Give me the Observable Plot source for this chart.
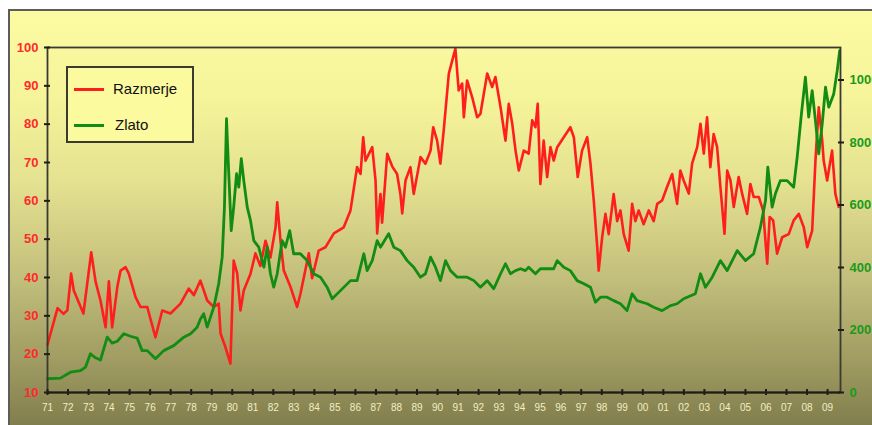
<!DOCTYPE html>
<html><head><meta charset="utf-8">
<script src="https://cdn.jsdelivr.net/npm/d3@7"></script>
<script src="https://cdn.jsdelivr.net/npm/@observablehq/plot@0.6"></script>
<style>
html,body{margin:0;padding:0;background:#fff;overflow:hidden;width:872px;height:425px;}
#frame{position:absolute;left:8px;top:9px;width:880px;height:430px;border:2px solid #5c5c5c;
 background:linear-gradient(to bottom,#fcfba2 0%,#f6f49a 20%,#e4e190 40%,#c6c27e 60%,#a29e64 80%,#7a7748 100%);}
#chart{position:absolute;left:0;top:0;}
#legend{position:absolute;left:66px;top:66px;width:124px;height:73px;border:2px solid #3a3a30;background:#fbfa9f;
 font-family:"Liberation Sans",Arial,sans-serif;font-size:15px;color:#111;}
.row{position:absolute;left:0;height:20px;}
.sw{position:absolute;left:6px;top:9px;width:30px;height:3px;}
.lb{position:absolute;left:45px;top:1px;white-space:nowrap;}
</style></head><body>
<div id="frame"></div>
<div id="chart"></div>
<div id="legend">
 <div class="row" style="top:11px"><div class="sw" style="background:#ff1e1e"></div><div class="lb">Razmerje</div></div>
 <div class="row" style="top:47px"><div class="sw" style="background:#128c12"></div><div class="lb" style="left:47px">Zlato</div></div>
</div>
<script>
const ratioYears = [1971.00,1971.49,1971.78,1971.97,1972.15,1972.28,1972.75,1973.13,1973.34,1973.58,1973.83,1973.99,1974.15,1974.40,1974.56,1974.80,1974.96,1975.29,1975.53,1975.86,1976.26,1976.59,1976.99,1977.48,1977.88,1978.13,1978.45,1978.78,1979.10,1979.34,1979.43,1979.67,1979.91,1980.07,1980.24,1980.40,1980.56,1980.89,1981.13,1981.37,1981.62,1981.86,1982.11,1982.19,1982.35,1982.51,1982.84,1983.16,1983.32,1983.73,1983.89,1984.21,1984.54,1984.95,1985.43,1985.76,1986.08,1986.25,1986.38,1986.49,1986.82,1986.98,1987.06,1987.22,1987.30,1987.55,1987.79,1988.03,1988.19,1988.28,1988.44,1988.68,1988.84,1989.17,1989.41,1989.66,1989.79,1989.98,1990.14,1990.30,1990.55,1990.87,1991.03,1991.20,1991.28,1991.44,1991.69,1991.93,1992.09,1992.42,1992.66,1992.82,1993.07,1993.31,1993.47,1993.64,1993.80,1993.96,1994.20,1994.44,1994.61,1994.77,1994.88,1995.01,1995.17,1995.34,1995.50,1995.66,1995.83,1996.15,1996.47,1996.64,1996.83,1997.04,1997.29,1997.45,1997.61,1997.78,1997.85,1998.02,1998.18,1998.34,1998.58,1998.75,1998.91,1999.07,1999.31,1999.48,1999.64,1999.80,2000.04,2000.29,2000.53,2000.70,2000.94,2001.18,2001.43,2001.67,2001.83,2001.99,2002.24,2002.40,2002.65,2002.81,2002.97,2003.13,2003.29,2003.45,2003.62,2003.78,2003.98,2004.11,2004.27,2004.43,2004.67,2004.84,2005.08,2005.24,2005.40,2005.65,2005.86,2006.06,2006.18,2006.35,2006.54,2006.79,2007.11,2007.35,2007.60,2007.84,2008.01,2008.25,2008.41,2008.57,2008.74,2008.81,2008.98,2009.22,2009.38,2009.54];
const ratioValues = [22.5,32,30.5,31.5,41,36.6,30.6,46.6,39,34,27,39,27,37.5,41.8,42.7,41,34.9,32.3,32.3,24.4,31.4,30.6,33.2,37.1,35.4,39.2,34,32.3,33.2,25.4,21.8,17.5,44.4,41.1,31.4,36.6,41,46.3,43,49.6,45.2,53.1,59.6,49.6,41.8,37.5,32.3,35.7,46.3,39.8,47,47.9,51.5,53.1,57.5,68.8,67,76.6,70.5,74,65.3,51.5,61.8,54.3,72.3,69,67,61.8,56.7,65.3,68.8,61.8,71.4,69.7,73.1,79.2,75.7,69.7,78.3,93.2,99.7,88.8,90.6,81.8,91.4,87,81.8,82.7,93.2,89.7,92.3,84.4,75.7,85.3,80.1,73.1,67.9,73.1,72.3,81,79.2,85.3,64.4,75.7,66.2,74,70.5,74,76.6,79.2,76.6,66.2,73.1,76.6,69.7,60.1,47.9,41.8,50.5,56.6,51.3,61.8,54.7,57.5,51.3,47,59.2,54.7,57.5,53.9,57.5,54.7,59.2,60.1,63.6,67,59.2,67.9,65.3,61.9,69.7,74,80.1,72.3,81.8,68.8,77.4,74,63.6,51.4,67.9,65.3,58.4,66.2,61.8,56.6,64.4,61,61,57.5,43.6,55.8,54.9,46.2,50.5,51.3,54.9,56.6,53.1,47.9,52.2,70.5,84.4,75.7,70.5,65.3,73.1,61.8,58.4];
const goldYears = [1971.00,1971.63,1972.12,1972.61,1972.85,1973.09,1973.34,1973.58,1973.91,1974.15,1974.40,1974.72,1975.04,1975.37,1975.61,1975.86,1976.26,1976.66,1977.15,1977.64,1977.97,1978.29,1978.45,1978.61,1978.78,1979.10,1979.34,1979.51,1979.62,1979.72,1979.83,1979.95,1980.07,1980.21,1980.32,1980.44,1980.56,1980.73,1980.89,1981.05,1981.29,1981.54,1981.70,1981.86,1982.02,1982.19,1982.43,1982.59,1982.80,1982.99,1983.32,1983.65,1983.97,1984.30,1984.62,1984.87,1985.27,1985.76,1986.08,1986.41,1986.57,1986.82,1987.06,1987.22,1987.62,1987.87,1988.19,1988.52,1988.84,1989.17,1989.41,1989.66,1989.90,1990.14,1990.39,1990.63,1990.96,1991.44,1991.77,1992.09,1992.42,1992.74,1993.07,1993.31,1993.55,1993.80,1994.04,1994.28,1994.44,1994.77,1995.01,1995.66,1995.83,1996.15,1996.47,1996.80,1997.13,1997.45,1997.69,1997.94,1998.26,1998.58,1998.91,1999.23,1999.48,1999.72,2000.21,2000.53,2000.94,2001.35,2001.67,2001.99,2002.16,2002.56,2002.81,2003.05,2003.38,2003.78,2004.11,2004.60,2005.00,2005.40,2005.73,2005.98,2006.09,2006.30,2006.46,2006.70,2007.03,2007.35,2007.52,2007.71,2007.92,2008.08,2008.25,2008.41,2008.57,2008.74,2008.90,2009.06,2009.30,2009.47,2009.59];
const goldValues = [44,46,65,70,81,124,111,104,177,158,164,188,180,174,134,134,108,134,150,177,188,209,235,252,209,273,348,433,593,876,700,518,593,700,657,748,679,593,550,486,465,401,465,380,337,380,486,465,518,444,444,422,380,369,337,300,326,358,358,444,390,422,486,465,508,465,454,422,401,369,380,433,401,358,422,390,369,369,358,337,358,332,380,412,380,390,396,390,401,380,396,396,422,401,390,358,348,337,289,305,305,294,284,262,316,294,284,273,262,278,284,300,305,316,380,337,369,422,390,454,422,444,529,615,721,593,636,678,678,657,753,881,1009,881,966,870,764,860,977,913,955,1030,1094];
const yearTicks = d3.range(1971, 2010);
const ratioTicks = [10,20,30,40,50,60,70,80,90,100];
const goldTicks = [0,200,400,600,800,1000];
const goldMax = 1104;
const g2r = g => 10 + g * 90 / goldMax;
const r2g = r => (r - 10) * goldMax / 90;

const ratio = ratioYears.map((t, i) => ({t, v: ratioValues[i]}));
const gold = goldYears.map((t, i) => ({t, v: g2r(goldValues[i])}));

const font = '"Liberation Sans Narrow","Arial Narrow","Liberation Sans",sans-serif';
const chart = Plot.plot({
  width: 872, height: 425,
  marginLeft: 47, marginRight: 32, marginTop: 47, marginBottom: 33,
  style: {background: "transparent", overflow: "visible"},
  x: {domain: [1971, 2009.63]},
  y: {domain: [10, 100]},
  marks: [
    Plot.line(ratio, {x: "t", y: "v", stroke: "#ff1e1e", strokeWidth: 2.6, curve: "linear"}),
    Plot.line(gold, {x: "t", y: "v", stroke: "#128c12", strokeWidth: 2.8, curve: "linear"}),
    Plot.frame({stroke: "#3a3a30", strokeWidth: 1.8}),
    Plot.ruleY([10], {stroke: "#1e1e18", strokeWidth: 2.2}),
    Plot.axisY(ratioTicks, {anchor: "left", tickSize: 6, dx: 3, tickPadding: 6, stroke: "#1e1e18", strokeWidth: 2, fill: "#ff2a2a", fontSize: 13, fontWeight: "bold", fontFamily: font, label: null}),
    Plot.axisY(goldTicks.map(g2r), {anchor: "right", tickSize: 6, dx: -3, tickPadding: 6, stroke: "#1e1e18", strokeWidth: 2, fill: "#1a9a1a", fontSize: 13, fontWeight: "bold", fontFamily: font, tickFormat: d => String(Math.round(r2g(d))), label: null}),
    Plot.axisX(yearTicks, {anchor: "bottom", tickSize: 6, dy: -3, tickPadding: 8, stroke: "#1e1e18", strokeWidth: 2, fill: "#f2eec4", fontSize: 10, fontFamily: font, tickFormat: d => String(d).slice(2), label: null})
  ]
});
document.getElementById("chart").appendChild(chart);
</script>
</body></html>
